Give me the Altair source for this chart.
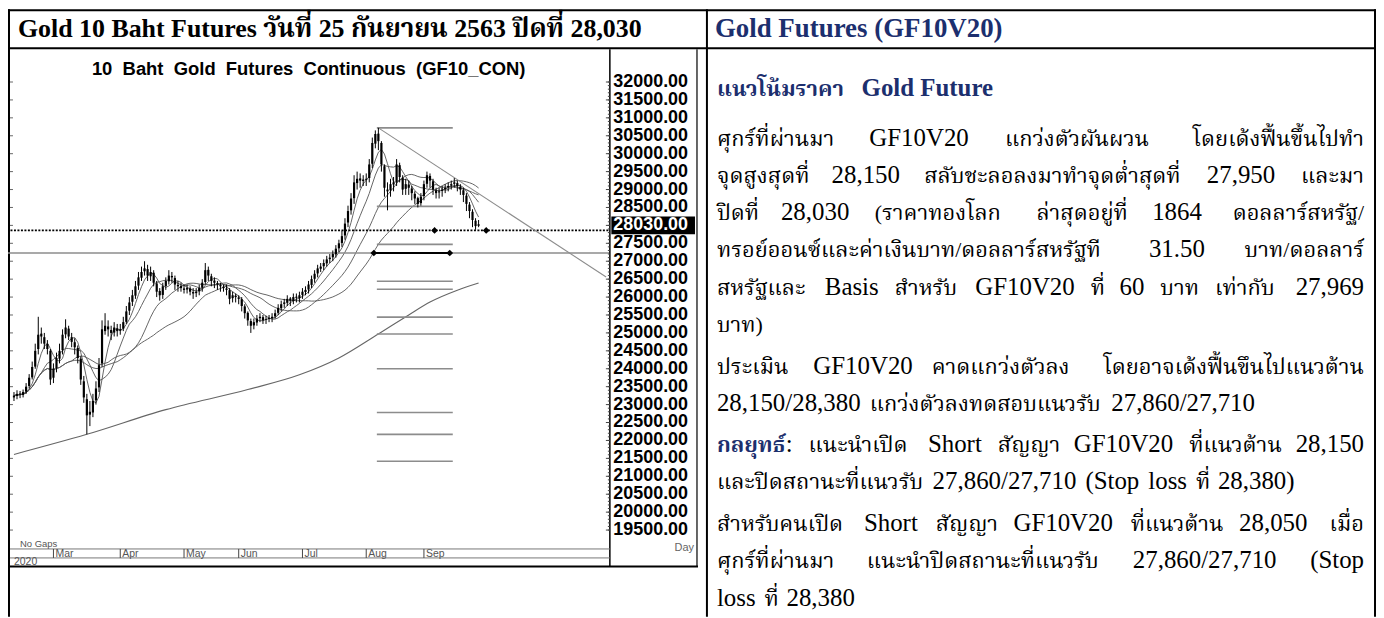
import altair as alt
import pandas as pd

# ---------------- data ----------------
# trading-day OHLC, GF10 continuous, Feb 12 2020 .. Sep 25 2020 (No Gaps axis)
opens = [23200, 23240, 23310, 23270, 23360, 23520, 23760, 24060, 24550, 24980,
         24880, 24690, 24500, 23750, 24020, 24280, 24520, 24960, 25120, 24880,
         24740, 24580, 24280, 23650, 23150, 22720, 22780, 23120, 23480, 24150,
         25050, 25180, 25080, 25010, 25130, 25060, 25120, 25310, 25620, 25870,
         26040, 26320, 26540, 26720, 26780, 26580, 26680, 26380, 26170, 26060,
         26310, 26440, 26590, 26530, 26340, 26310, 26240, 26210, 26240, 26140,
         26110, 26160, 26260, 26420, 26760, 26580, 26460, 26390, 26340, 26290,
         26240, 26190, 25970, 26040, 25990, 25940, 25740, 25560, 25330, 25210,
         25290, 25410, 25440, 25360, 25390, 25410, 25460, 25560, 25690, 25810,
         25840, 25960, 25890, 26010, 25970, 26060, 26140, 26210, 26340, 26510,
         26660, 26790, 26860, 26940, 27060, 27110, 27190, 27360, 27510, 27720,
         28080, 28420, 28760, 29180, 29310, 29240, 29270, 29320, 29720, 30280,
         30560, 30300, 29650, 29000, 28980, 29140, 29220, 29680, 29330, 29020,
         29140, 29030, 28880, 28760, 28620, 28820, 29160, 29380, 29230, 28980,
         28920, 28960, 29010, 29060, 29110, 29160, 29180, 29080, 28980, 28830,
         28580, 28380, 28130, 27990]
highs = [23350, 23400, 23380, 23420, 23600, 23850, 24200, 24700, 25450, 25150,
         25000, 24800, 24550, 24150, 24450, 24700, 25100, 25380, 25200, 25000,
         24850, 24650, 24350, 23800, 23300, 23100, 23300, 23650, 24300, 25350,
         25550, 25350, 25200, 25300, 25250, 25250, 25450, 25750, 26000, 26200,
         26450, 26700, 26850, 27000, 26900, 26850, 26750, 26450, 26250, 26400,
         26550, 26750, 26700, 26600, 26450, 26400, 26350, 26350, 26300, 26250,
         26250, 26350, 26500, 26950, 26850, 26650, 26550, 26450, 26400, 26350,
         26350, 26250, 26150, 26100, 26050, 26000, 25800, 25600, 25400, 25400,
         25500, 25550, 25500, 25480, 25500, 25550, 25650, 25800, 25900, 25950,
         26050, 26000, 26100, 26100, 26150, 26250, 26300, 26450, 26600, 26750,
         26900, 26950, 27050, 27150, 27200, 27300, 27450, 27600, 27850, 28200,
         28550, 28900, 29400, 29500, 29450, 29400, 29450, 29850, 30450, 30650,
         30720, 30350, 29700, 29200, 29300, 29350, 29850, 29750, 29400, 29300,
         29250, 29100, 28950, 28800, 28900, 29250, 29500, 29450, 29300, 29050,
         29050, 29100, 29150, 29200, 29250, 29320, 29250, 29150, 29050, 28900,
         28650, 28450, 28200, 28150]
lows = [23100, 23150, 23180, 23200, 23300, 23450, 23700, 24000, 24400, 24700,
        24550, 24400, 23550, 23600, 23900, 24150, 24400, 24850, 24800, 24600,
        24400, 24150, 23550, 23050, 22170, 22400, 22650, 23000, 23350, 24050,
        24950, 24900, 24800, 24900, 24900, 24950, 25050, 25250, 25500, 25750,
        25950, 26200, 26450, 26600, 26450, 26450, 26300, 26000, 25900, 25950,
        26200, 26350, 26400, 26200, 26150, 26150, 26100, 26100, 26050, 25950,
        26000, 26050, 26150, 26350, 26450, 26300, 26250, 26200, 26150, 26150,
        26050, 25800, 25850, 25850, 25800, 25600, 25400, 25200, 25000, 25100,
        25200, 25300, 25250, 25250, 25300, 25300, 25400, 25500, 25600, 25700,
        25750, 25750, 25800, 25850, 25850, 25950, 26050, 26100, 26250, 26400,
        26550, 26700, 26750, 26850, 26950, 27000, 27100, 27250, 27400, 27600,
        27950, 28300, 28600, 29000, 29050, 29100, 29100, 29200, 29600, 30150,
        30100, 29500, 28800, 28420, 28800, 28950, 29100, 29200, 28850, 28850,
        28850, 28700, 28600, 28500, 28550, 28700, 29050, 29050, 28850, 28750,
        28750, 28800, 28900, 28950, 29000, 29050, 28950, 28850, 28650, 28400,
        28200, 27950, 27880, 27950]
closes = [23250, 23300, 23280, 23350, 23500, 23750, 24050, 24500, 24950, 24900,
          24700, 24550, 23700, 24000, 24300, 24500, 24950, 25150, 24900, 24750,
          24600, 24300, 23700, 23200, 22700, 22800, 23100, 23450, 24100, 25100,
          25200, 25100, 25000, 25150, 25050, 25100, 25300, 25600, 25850, 26050,
          26300, 26550, 26700, 26800, 26600, 26700, 26400, 26150, 26050, 26300,
          26450, 26600, 26550, 26350, 26300, 26250, 26200, 26250, 26150, 26100,
          26150, 26250, 26400, 26750, 26600, 26450, 26400, 26350, 26300, 26250,
          26200, 25950, 26050, 26000, 25950, 25750, 25550, 25350, 25200, 25300,
          25400, 25450, 25350, 25380, 25420, 25450, 25550, 25700, 25800, 25850,
          25950, 25900, 26000, 25980, 26050, 26150, 26200, 26350, 26500, 26650,
          26800, 26850, 26950, 27050, 27100, 27200, 27350, 27500, 27700, 28050,
          28400, 28750, 29200, 29300, 29250, 29280, 29300, 29700, 30300, 30550,
          30350, 29700, 29050, 28950, 29150, 29200, 29700, 29350, 29000, 29150,
          29050, 28900, 28750, 28600, 28800, 29150, 29400, 29250, 29000, 28900,
          28950, 29000, 29050, 29100, 29150, 29200, 29100, 29000, 28850, 28600,
          28400, 28150, 27980, 28030]
day_index = list(range(len(closes)))

ma_windows = [5, 10, 20, 35]

ma_long_idx = [0, 24, 50, 77, 94, 107, 120, 130, 137, 146, 153]
ma_long_val = [21610, 22170, 22860, 23420, 23830, 24300, 24970, 25500, 25860, 26190, 26390]

fib_levels = [30720, 28530, 27470, 26440, 26220, 25440, 24970, 24000, 22780, 22170, 21420]
fib_span = [119.5, 144.5]

support_dotted = 27860
support_gray = 27230
support_span = [-2.3, 196.0]
gray_segment = [118.5, 143.5]

trend_idx = [120, 195]
trend_val = [30720, 26560]

marker_idx = [138.5, 155.5, 118.5, 143.5]
marker_val = [27860, 27860, 27230, 27230]

axis_values = [32000, 31500, 31000, 30500, 30000, 29500, 29000, 28500, 28000,
               27500, 27000, 26500, 26000, 25500, 25000, 24500, 24000, 23500,
               23000, 22500, 22000, 21500, 21000, 20500, 20000, 19500]
axis_labels = ["32000.00", "31500.00", "31000.00", "30500.00", "30000.00",
               "29500.00", "29000.00", "28500.00", "28030.00", "27500.00",
               "27000.00", "26500.00", "26000.00", "25500.00", "25000.00",
               "24500.00", "24000.00", "23500.00", "23000.00", "22500.00",
               "22000.00", "21500.00", "21000.00", "20500.00", "20000.00",
               "19500.00"]
last_close_label = "28030.00"

month_names = ["Mar", "Apr", "May", "Jun", "Jul", "Aug", "Sep"]
month_idx = [13, 35, 56, 74, 95, 116, 135]

title_left = "Gold 10 Baht Futures วันที่ 25 กันยายน 2563 ปิดที่ 28,030"
title_right = "Gold Futures (GF10V20)"
chart_title = "10\u00a0 Baht\u00a0 Gold\u00a0 Futures\u00a0 Continuous\u00a0 (GF10_CON)"

heading_words = ["แนวโน้มราคา", "Gold Future"]
body_words = [
    ["ศุกร์ที่ผ่านมา", "GF10V20", "แกว่งตัวผันผวน", "โดยเด้งฟื้นขึ้นไปทำ"],
    ["จุดสูงสุดที่", "28,150", "สลับชะลอลงมาทำจุดต่ำสุดที่", "27,950", "และมา"],
    ["ปิดที่", "28,030", "(ราคาทองโลก", "ล่าสุดอยู่ที่", "1864", "ดอลลาร์สหรัฐ/"],
    ["ทรอย์ออนซ์และค่าเงินบาท/ดอลลาร์สหรัฐที", "31.50", "บาท/ดอลลาร์"],
    ["สหรัฐและ", "Basis", "สำหรับ", "GF10V20", "ที่", "60", "บาท", "เท่ากับ", "27,969"],
    ["บาท)"],
    ["ประเมิน", "GF10V20", "คาดแกว่งตัวลง", "โดยอาจเด้งฟื้นขึนไปแนวต้าน"],
    ["28,150/28,380", "แกว่งตัวลงทดสอบแนวรับ", "27,860/27,710"],
    ["กลยุทธ์", ":", "แนะนำเปิด", "Short", "สัญญา", "GF10V20", "ที่แนวต้าน", "28,150"],
    ["และปิดสถานะที่แนวรับ", "27,860/27,710", "(Stop", "loss", "ที่", "28,380)"],
    ["สำหรับคนเปิด", "Short", "สัญญา", "GF10V20", "ที่แนวต้าน", "28,050", "เมื่อ"],
    ["ศุกร์ที่ผ่านมา", "แนะนำปิดสถานะที่แนวรับ", "27,860/27,710", "(Stop"],
    ["loss", "ที่", "28,380"],
]
justified = [True, True, True, True, True, False, True, False,
             True, False, True, True, False]
strategy_word = "กลยุทธ์"

# ---------------- layout (reference-page pixels; the svg starts at page 8,8) ----------------
OFF = 8
W, H = 1374, 610
NAVY = "#1c2f6e"
SERIF = "Liberation Serif, Noto Serif Thai, Noto Sans Thai, serif"
SANS = "Liberation Sans, Arial, sans-serif"
TH_SIZE, LA_SIZE = 22, 25
TEXT_LEFT, TEXT_RIGHT, NAT_GAP, COLON_GAP = 720, 1370, 9, 1
heading_base = 95
line_base = [145, 182, 220, 257, 295, 332, 374, 411, 453, 490, 532, 569, 607]

XS = alt.Scale(domain=[0, 153], range=[6, 6 + 153 * 3.05], nice=False, zero=False)
YS = alt.Scale(domain=[19500, 32000], range=[73 + 12.5 * 36, 73], nice=False, zero=False)

ONE = pd.DataFrame({"k": [0]})

# approximate advance widths (em) used to justify the text lines
THAI_ZERO = set([chr(0x0E31)] + [chr(c) for c in range(0x0E34, 0x0E3B)]
                + [chr(c) for c in range(0x0E47, 0x0E4F)])
THAI_WIDE = {"ญ": 0.78, "ฐ": 0.66}
LAT = {c: 0.5 for c in "0123456789abdghknopquvxy"}
LAT.update({",": .25, ".": .25, "/": .278, "(": .333, ")": .333, ":": .278, " ": .25,
            "c": .444, "e": .444, "a": .444, "z": .444, "f": .333, "r": .333, "s": .389,
            "i": .278, "j": .278, "l": .278, "t": .278, "m": .778, "w": .722,
            "G": .722, "F": .556, "V": .722, "B": .667, "S": .556})


def X(f):
    return alt.X(f, scale=XS, axis=None)


def Y(f):
    return alt.Y(f, scale=YS, axis=None)


def hline(y, x0, x1, color="black", w=2):
    return alt.Chart(ONE).mark_rule(color=color, strokeWidth=w).encode(
        x=alt.value(x0), x2=alt.value(x1), y=alt.value(y))


def vline(x, y0, y1, color="black", w=2):
    return alt.Chart(ONE).mark_rule(color=color, strokeWidth=w).encode(
        x=alt.value(x), y=alt.value(y0), y2=alt.value(y1))


def label(txt, x, y, size, color="black", font=SERIF, weight="normal",
          align="left", baseline="middle"):
    return alt.Chart(ONE).mark_text(
        text=txt, align=align, baseline=baseline, fontSize=size, font=font,
        fontWeight=weight, color=color).encode(x=alt.value(x), y=alt.value(y))


def is_thai(s):
    return any("\u0e00" <= ch <= "\u0e7f" for ch in s)


def seg_size(s):
    return TH_SIZE if is_thai(s) else LA_SIZE


def seg_width(s, bold=False):
    em = 0.0
    for ch in s:
        if "\u0e00" <= ch <= "\u0e7f":
            if ch in THAI_ZERO:
                continue
            em += THAI_WIDE.get(ch, 0.59) * (1.05 if bold else 1.0)
        else:
            em += LAT.get(ch, 0.72) * (1.06 if bold else 1.0)
    return em * seg_size(s)


def line_layers(words, base_ref, justify, bolds, colors):
    widths = [seg_width(w, b) for w, b in zip(words, bolds)]
    n_gaps = sum(1 for w in words[1:] if w != ":")
    n_colon = sum(1 for w in words[1:] if w == ":")
    gap = NAT_GAP
    if justify and n_gaps:
        gap = (TEXT_RIGHT - TEXT_LEFT - sum(widths) - n_colon * COLON_GAP) / n_gaps
    out, x = [], TEXT_LEFT
    for i, (w, b, c) in enumerate(zip(words, bolds, colors)):
        if i > 0:
            x += COLON_GAP if w == ":" else gap
        if justify and n_gaps and i == len(words) - 1:
            xx, align = TEXT_RIGHT - OFF, "right"
        else:
            xx, align = x - OFF, "left"
        out.append(label(w, xx, base_ref - OFF, seg_size(w), color=c,
                         weight="bold" if b else "normal", align=align,
                         baseline="alphabetic"))
        x += widths[i]
    return out


layers = []

# table borders
layers += [hline(1, 0, W, w=2), hline(39, 0, W, w=2),
           vline(1, 0, H, w=2), vline(702, 0, H, w=2), vline(1373, 0, H, w=2)]

# headers
layers += [label(title_left, 10, 20, 26, weight="bold"),
           label(title_right, 710, 20, 27, color=NAVY, weight="bold")]

# ---------------- price chart ----------------
df = pd.DataFrame({"i": day_index, "o": opens, "h": highs, "l": lows, "c": closes})
base = alt.Chart(df)

df_long = pd.DataFrame({"i": ma_long_idx, "v": ma_long_val})
layers.append(alt.Chart(df_long).mark_line(color="#666", strokeWidth=1.1, interpolate="monotone")
              .encode(x=X("i:Q"), y=Y("v:Q")))

for n in ma_windows:
    layers.append(base.transform_window(ma="mean(c)", frame=[-(n - 1), 0],
                                        sort=[alt.SortField("i")])
                  .mark_line(color="#555", strokeWidth=0.9)
                  .encode(x=X("i:Q"), y=Y("ma:Q")))

df_fib = pd.DataFrame({"v": fib_levels, "a": fib_span[0], "b": fib_span[1]})
layers.append(alt.Chart(df_fib).mark_rule(color="#8c8c8c", strokeWidth=1.6)
              .encode(x=X("a:Q"), x2="b:Q", y=Y("v:Q")))

df_sup = pd.DataFrame({"v": [support_dotted], "a": support_span[0], "b": support_span[1]})
layers.append(alt.Chart(df_sup).mark_rule(color="black", strokeWidth=1.6, strokeDash=[2, 1.5])
              .encode(x=X("a:Q"), x2="b:Q", y=Y("v:Q")))
df_sup2 = pd.DataFrame({"v": [support_gray], "a": support_span[0], "b": support_span[1]})
layers.append(alt.Chart(df_sup2).mark_rule(color="#8c8c8c", strokeWidth=1.5)
              .encode(x=X("a:Q"), x2="b:Q", y=Y("v:Q")))
df_seg = pd.DataFrame({"v": [support_gray], "a": gray_segment[0], "b": gray_segment[1]})
layers.append(alt.Chart(df_seg).mark_rule(color="black", strokeWidth=2.2)
              .encode(x=X("a:Q"), x2="b:Q", y=Y("v:Q")))

df_tr = pd.DataFrame({"i": trend_idx, "v": trend_val})
layers.append(alt.Chart(df_tr).mark_line(color="#8c8c8c", strokeWidth=1.1)
              .encode(x=X("i:Q"), y=Y("v:Q")))

layers.append(base.mark_rule(color="black", strokeWidth=1).encode(x=X("i:Q"), y=Y("l:Q"), y2="h:Q"))
layers.append(base.mark_rule(color="black", strokeWidth=2.2).encode(x=X("i:Q"), y=Y("o:Q"), y2="c:Q"))

df_mk = pd.DataFrame({"i": marker_idx, "v": marker_val})
layers.append(alt.Chart(df_mk).mark_point(shape="diamond", filled=True, color="black", size=45, opacity=1)
              .encode(x=X("i:Q"), y=Y("v:Q")))

# chart frame pieces
layers += [vline(604.5, 40, 560, w=1.5), vline(692, 40, 560, color="#333", w=1.5),
           hline(542, 2, 604.5, color="#777", w=1), hline(551, 2, 604.5, color="#777", w=1),
           hline(559.5, 0, 693, w=2)]

# right price axis
df_ax = pd.DataFrame({"v": axis_values, "t": axis_labels})
minor = pd.DataFrame({"v": list(range(19500, 32001, 100))})
layers.append(alt.Chart(minor).mark_rule(color="#444", strokeWidth=1)
              .encode(x=alt.value(602.5), x2=alt.value(604.5), y=Y("v:Q")))
layers.append(alt.Chart(df_ax).mark_rule(color="#444", strokeWidth=1)
              .encode(x=alt.value(600.5), x2=alt.value(604.5), y=Y("v:Q")))
layers.append(alt.Chart(df_ax).mark_rule(color="#666", strokeWidth=1)
              .encode(x=alt.value(2), x2=alt.value(5), y=Y("v:Q")))
layers.append(alt.Chart(df_ax).transform_filter(alt.datum.t != last_close_label)
              .mark_text(align="left", baseline="middle", font=SANS, fontSize=18,
                         fontWeight="bold", color="black")
              .encode(x=alt.value(608), y=Y("v:Q"), text="t:N"))
layers.append(alt.Chart(df_ax).transform_filter(alt.datum.t == last_close_label)
              .mark_rect(color="black", yOffset=-9, y2Offset=9)
              .encode(x=alt.value(606), x2=alt.value(690), y=Y("v:Q"), y2="v:Q"))
layers.append(alt.Chart(df_ax).transform_filter(alt.datum.t == last_close_label)
              .mark_text(align="left", baseline="middle", font=SANS, fontSize=18,
                         fontWeight="bold", color="white")
              .encode(x=alt.value(608), y=Y("v:Q"), text="t:N"))

# month axis
df_m = pd.DataFrame({"i": month_idx, "m": month_names})
layers.append(alt.Chart(df_m).mark_rule(color="#444", strokeWidth=1)
              .encode(x=X("i:Q"), y=alt.value(542), y2=alt.value(551)))
layers.append(alt.Chart(df_m).mark_text(align="left", baseline="middle", dx=2, font=SANS,
                                        fontSize=10.5, color="#555")
              .encode(x=X("i:Q"), y=alt.value(547), text="m:N"))
layers += [label("No  Gaps", 12, 537, 9.5, color="#555", font=SANS),
           label("2020", 6, 555, 10.5, color="#555", font=SANS),
           label("Day", 689, 541, 11, color="#666", font=SANS, align="right"),
           label(chart_title, 302, 60, 18.5, font=SANS, weight="bold", align="center")]

# ---------------- right column text ----------------
layers += line_layers(heading_words, heading_base, False, [True, True], [NAVY, NAVY])
for words, yb, just in zip(body_words, line_base, justified):
    bolds = [w == strategy_word for w in words]
    colors = [NAVY if w == strategy_word else "black" for w in words]
    layers += line_layers(words, yb, just, bolds, colors)

chart = alt.layer(*layers).properties(
    width=W, height=H, padding=0,
    autosize=alt.AutoSizeParams(type="none"),
).configure_view(stroke=None)

chart.save("out.html", embed_options={"renderer": "svg", "actions": False})
